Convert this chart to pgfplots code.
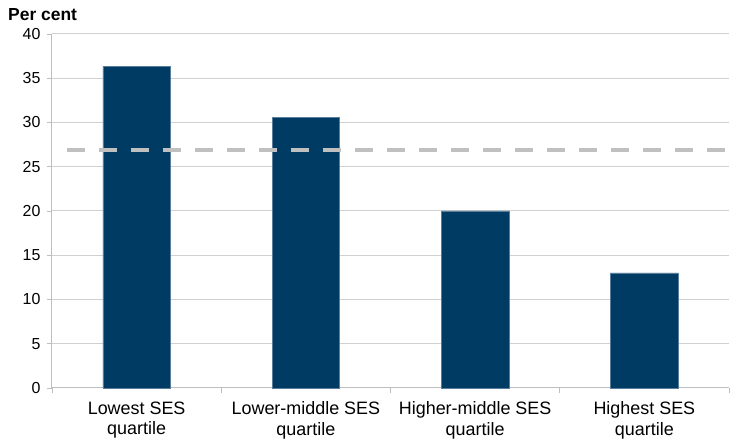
\documentclass[border=0pt]{standalone}
\usepackage{fontspec}
\setmainfont{Liberation Sans}
\usepackage{pgfplots}
\pgfplotsset{compat=1.18}
\definecolor{navy}{RGB}{0,59,99}
\definecolor{baredge}{RGB}{90,125,155}
\definecolor{gridgrey}{RGB}{208,208,208}
\definecolor{axisgrey}{RGB}{190,190,190}
\definecolor{dashgrey}{RGB}{192,192,192}

\begin{document}
\begin{tikzpicture}
  \begin{axis}[
    scale only axis,
    width=677bp, height=354bp,
    xmin=-0.5, xmax=3.5,
    ymin=0, ymax=40,
    ytick={0,5,...,40},
    xtick={0,1,2,3},
    xticklabels={{Lowest SES\\quartile},{Lower-middle SES\\quartile},{Higher-middle SES\\quartile},{Highest SES\\quartile}},
    minor xtick={-0.5,0.5,1.5,2.5,3.5},
    major x tick style={draw=none},
    tick align=outside,
    major tick length=5bp,
    minor tick length=5bp,
    tick style={axisgrey, line width=0.8bp},
    axis x line*=bottom,
    axis y line*=left,
    axis line style={axisgrey, line width=1bp, -},
    ymajorgrids,
    grid style={gridgrey, line width=1bp},
    xticklabel style={align=center, font=\fontsize{18}{21}\selectfont, yshift=-5bp},
    yticklabel style={font=\fontsize{16}{18}\selectfont, xshift=-3bp},
    /pgf/number format/assume math mode=true,
    clip=false,
  ]
    \addplot[ybar, bar width=0.4, fill=navy, draw=baredge, line width=0.5bp]
      coordinates {(0,36.3) (1,30.6) (2,20.0) (3,13.0)};
    \addplot[dashgrey, line width=4bp, dash pattern=on 18bp off 14bp]
      coordinates {(-0.41,26.9) (3.5,26.9)};
    \node[anchor=base west, font=\bfseries\fontsize{17.5}{20}\selectfont, inner sep=0pt]
      at ([xshift=-44bp,yshift=13bp]rel axis cs:0,1) {Per cent};
    \path ([xshift=-52bp,yshift=-59bp]rel axis cs:0,0) coordinate (bl);
    \path ([xshift=18bp,yshift=34bp]rel axis cs:1,1) coordinate (tr);
  \end{axis}
  \path (bl) rectangle (tr);
\end{tikzpicture}
\end{document}
